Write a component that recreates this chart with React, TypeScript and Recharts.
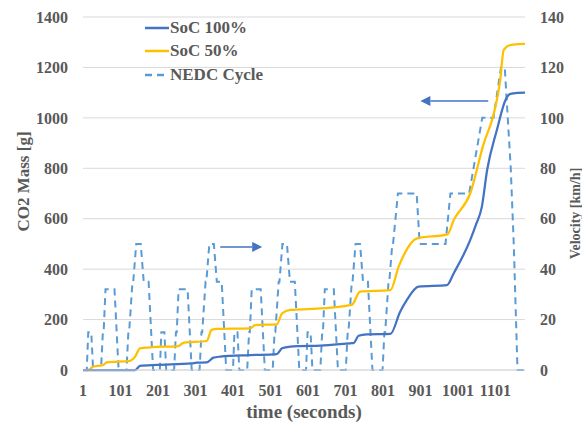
import React from 'react';
import { ComposedChart, Line, XAxis, YAxis, CartesianGrid, Legend, ReferenceLine } from 'recharts';

// ---- Data ----
const timeTicks = [1, 101, 201, 301, 401, 501, 601, 701, 801, 901, 1001, 1101];
const massTicks = [0, 200, 400, 600, 800, 1000, 1200, 1400];
const speedTicks = [0, 20, 40, 60, 80, 100, 120, 140];

const nedcTime = [
  1, 11, 15, 23, 28, 49, 54, 56, 61, 85, 96, 117, 122, 124, 133, 135, 143, 155, 163, 176, 188, 195,
  206, 210, 218, 223, 244, 249, 251, 256, 280, 291, 312, 317, 319, 328, 330, 338, 350, 358, 371, 383, 390,
  401, 405, 413, 418, 439, 444, 446, 451, 475, 486, 507, 512, 514, 523, 525, 533, 545, 553, 566, 578, 585,
  596, 600, 608, 613, 634, 639, 641, 646, 670, 681, 702, 707, 709, 718, 720, 728, 740, 748, 761, 773, 780,
  800, 805, 807, 816, 818, 826, 828, 841, 891, 899, 968, 981, 1031, 1066, 1096, 1116, 1126, 1142, 1150, 1160, 1180,
];
const nedcSpeed = [
  0, 0, 15, 15, 0, 0, 15, 15, 32, 32, 0, 0, 15, 15, 35, 35, 50, 50, 35, 35, 0, 0,
  0, 15, 15, 0, 0, 15, 15, 32, 32, 0, 0, 15, 15, 35, 35, 50, 50, 35, 35, 0, 0,
  0, 15, 15, 0, 0, 15, 15, 32, 32, 0, 0, 15, 15, 35, 35, 50, 50, 35, 35, 0, 0,
  0, 15, 15, 0, 0, 15, 15, 32, 32, 0, 0, 15, 15, 35, 35, 50, 50, 35, 35, 0, 0,
  0, 15, 15, 35, 35, 50, 50, 70, 70, 50, 50, 70, 70, 100, 100, 120, 120, 80, 50, 0, 0,
];

const soc100Time = [
  1, 140, 153, 198, 291, 304, 331, 349, 367, 447, 518, 532, 554, 580, 634, 714, 723, 736, 758, 821,
  847, 865, 896, 972, 990, 1034, 1048, 1065, 1079, 1105, 1128, 1141, 1160, 1180,
];
const soc100Mass = [
  0, 0, 16, 20, 26, 29, 30, 49, 53, 59, 63, 86, 93, 95, 97, 106, 107, 136, 141, 143,
  231, 278, 331, 337, 384, 516, 572, 648, 793, 952, 1071, 1095, 1099, 1100,
];

const soc50Time = [
  1, 14, 28, 55, 64, 126, 140, 153, 180, 255, 269, 331, 344, 358, 447, 460, 518, 532, 554, 580,
  643, 718, 740, 821, 843, 892, 973, 990, 1034, 1070, 1097, 1114, 1123, 1141, 1160, 1180,
];
const soc50Mass = [
  0, 0, 13, 20, 30, 36, 53, 86, 90, 95, 108, 115, 159, 163, 165, 178, 181, 225, 238, 240,
  245, 258, 311, 317, 410, 522, 538, 595, 701, 899, 1018, 1150, 1269, 1289, 1292, 1293,
];

const arrowRight = [
  { x: 367, y: 488 },
  { x: 479, y: 488 },
];
const arrowLeft = [
  { x: 1082, y: 1067 },
  { x: 901, y: 1067 },
];

const nedcData = nedcTime.map((t, i) => ({ t, v: nedcSpeed[i] }));
const soc100Data = soc100Time.map((t, i) => ({ t, m: soc100Mass[i] }));
const soc50Data = soc50Time.map((t, i) => ({ t, m: soc50Mass[i] }));

// ---- Styles ----
const FONT = '"Liberation Serif", "Times New Roman", serif';
const TEXT = '#595959';
const BLUE = '#4472C4';
const GOLD = '#FFC000';
const LIGHT = '#5B9BD5';
const GRID = '#D9D9D9';

const legendItems = [
  { name: 'SoC 100%', color: BLUE, dash: undefined as string | undefined },
  { name: 'SoC 50%', color: GOLD, dash: undefined as string | undefined },
  { name: 'NEDC Cycle', color: LIGHT, dash: '7 5' },
];

const ArrowShape = (props: any) => {
  const { x1, y1, x2, y2 } = props;
  const dx = x2 - x1;
  const dy = y2 - y1;
  const len = Math.hypot(dx, dy) || 1;
  const ux = dx / len;
  const uy = dy / len;
  const head = 10;
  const half = 5;
  const bx = x2 - ux * head;
  const by = y2 - uy * head;
  return (
    <g>
      <line x1={x1} y1={y1} x2={bx} y2={by} stroke={BLUE} strokeWidth={1.5} />
      <polygon
        points={`${x2},${y2} ${bx - uy * half},${by + ux * half} ${bx + uy * half},${by - ux * half}`}
        fill={BLUE}
      />
    </g>
  );
};

const renderLegend = () => (
  <div style={{ fontFamily: FONT, fontWeight: 'bold', fontSize: 17, color: TEXT }}>
    {legendItems.map((item) => (
      <div key={item.name} style={{ display: 'flex', alignItems: 'center', height: 23.5, whiteSpace: 'nowrap' }}>
        <svg width={24} height={4} style={{ display: 'block' }}>
          <line x1={0} y1={2} x2={24} y2={2} stroke={item.color} strokeWidth={2.5} strokeDasharray={item.dash} />
        </svg>
        <span style={{ marginLeft: 1 }}>{item.name}</span>
      </div>
    ))}
  </div>
);

const tickStyle = { fontFamily: FONT, fontWeight: 'bold', fontSize: 16, fill: TEXT };

const LeftTitle = (props: any) => {
  const vb = props.viewBox;
  const cx = vb.x + 29;
  const cy = vb.y + vb.height / 2 - 12;
  return (
    <text
      x={cx}
      y={cy}
      transform={`rotate(-90 ${cx} ${cy})`}
      textAnchor="middle"
      style={{ fontFamily: FONT, fontWeight: 'bold', fontSize: 17, fill: TEXT }}
    >
      CO2 Mass [g]
    </text>
  );
};

const RightTitle = (props: any) => {
  const vb = props.viewBox;
  const cx = vb.x + 55;
  const cy = vb.y + vb.height / 2 + 20;
  return (
    <text
      x={cx}
      y={cy}
      transform={`rotate(-90 ${cx} ${cy})`}
      textAnchor="middle"
      style={{ fontFamily: FONT, fontWeight: 'bold', fontSize: 14, fill: TEXT }}
    >
      Velocity [km/h]
    </text>
  );
};

const BottomTitle = (props: any) => {
  const vb = props.viewBox;
  const cx = vb.x + vb.width / 2;
  const cy = vb.y + 48;
  return (
    <text x={cx} y={cy} textAnchor="middle" style={{ fontFamily: FONT, fontWeight: 'bold', fontSize: 19, fill: TEXT }}>
      time (seconds)
    </text>
  );
};

export default function App() {
  return (
    <div style={{ position: 'absolute', left: 0, top: 0, background: '#fff' }}>
      <ComposedChart width={582} height={428} margin={{ top: 17, right: 0, bottom: 0, left: 0 }}>
        <CartesianGrid yAxisId="left" horizontal vertical={false} stroke={GRID} strokeWidth={1} />
        <XAxis
          dataKey="t"
          type="number"
          domain={[1, 1180]}
          ticks={timeTicks}
          interval={0}
          allowDataOverflow
          height={58}
          axisLine={{ stroke: GRID, strokeWidth: 1 }}
          tickLine={false}
          tickMargin={9}
          tick={tickStyle}
          label={{ content: BottomTitle }}
        />
        <YAxis
          yAxisId="left"
          orientation="left"
          domain={[0, 1400]}
          ticks={massTicks}
          interval={0}
          width={83}
          axisLine={false}
          tickLine={false}
          tickMargin={9}
          tick={tickStyle}
          label={{ content: LeftTitle }}
        />
        <YAxis
          yAxisId="right"
          orientation="right"
          domain={[0, 140]}
          ticks={speedTicks}
          interval={0}
          width={57}
          axisLine={false}
          tickLine={false}
          tickMargin={9}
          tick={tickStyle}
          label={{ content: RightTitle }}
        />
        <Legend
          layout="horizontal"
          align="center"
          verticalAlign="middle"
          content={renderLegend}
          wrapperStyle={{ left: 145, top: 16, width: 'auto', height: 'auto' }}
        />
        <Line
          yAxisId="right"
          data={nedcData}
          dataKey="v"
          name="NEDC Cycle"
          type="linear"
          stroke={LIGHT}
          strokeWidth={2}
          strokeDasharray="7 5"
          dot={false}
          isAnimationActive={false}
        />
        <Line
          yAxisId="left"
          data={soc50Data}
          dataKey="m"
          name="SoC 50%"
          type="monotone"
          stroke={GOLD}
          strokeWidth={2.25}
          dot={false}
          isAnimationActive={false}
        />
        <Line
          yAxisId="left"
          data={soc100Data}
          dataKey="m"
          name="SoC 100%"
          type="monotone"
          stroke={BLUE}
          strokeWidth={2.25}
          dot={false}
          isAnimationActive={false}
        />
        <ReferenceLine yAxisId="left" segment={arrowRight} shape={ArrowShape} />
        <ReferenceLine yAxisId="left" segment={arrowLeft} shape={ArrowShape} />
      </ComposedChart>
    </div>
  );
}
